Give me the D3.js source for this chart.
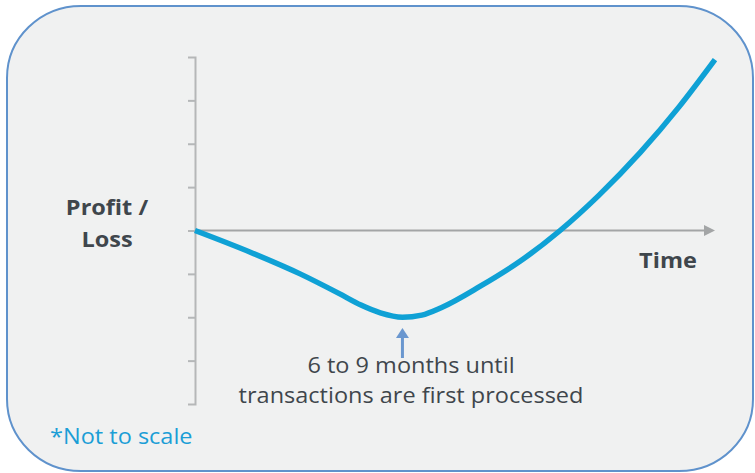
<!DOCTYPE html>
<html>
<head>
<meta charset="utf-8">
<script src="https://cdn.jsdelivr.net/npm/d3@7"></script>
<style>
  body { margin: 0; background: #fff; }
  text { font-family: "Open Sans", "Noto Sans", sans-serif; }
</style>
</head>
<body>
<div id="app"></div>
<script>
// months since start
const months = [0, 2, 3.8, 5.2, 6.0, 6.7, 7.5, 8.2, 8.9, 10.3, 11.75, 13.2, 14.6, 16.1, 17.5, 18.8];
// profit / loss (arbitrary units, not to scale)
const profit = [0, -0.5, -1.0, -1.45, -1.72, -1.9, -2.0, -1.95, -1.78, -1.29, -0.71, 0, 0.81, 1.8, 2.85, 3.94];
const yTicks = [-3, -2, -1, 0, 1, 2, 3];
const lowPoint = 7.5;
const noteLines = ["6 to 9 months until", "transactions are first processed"];

const width = 755, height = 473;
const stretch = 1.12; // the source lettering is a bit wider than Open Sans

const svg = d3.select("#app")
  .append("svg")
    .attr("width", width)
    .attr("height", height);

// rounded panel
svg.append("rect")
  .attr("x", 7).attr("y", 6)
  .attr("width", 746).attr("height", 465)
  .attr("rx", 74).attr("ry", 72)
  .attr("fill", "#f0f1f1")
  .attr("stroke", "#5f92cc")
  .attr("stroke-width", 2);

const x = d3.scaleLinear().domain([0, 18.8]).range([195, 715]);
const y = d3.scaleLinear().domain([-4, 4]).range([404, 57]);

// Y axis (ticks only)
const yAxis = svg.append("g")
  .attr("transform", `translate(${x(0)},0)`)
  .call(d3.axisLeft(y).tickValues(yTicks).tickSize(7).tickSizeOuter(7).tickFormat(""));
yAxis.selectAll("path, line")
  .attr("stroke", "#b5b7b8")
  .attr("stroke-width", 2);

// X axis with arrow
svg.append("line")
  .attr("x1", x(0)).attr("x2", x(18.8) - 9)
  .attr("y1", y(0)).attr("y2", y(0))
  .attr("stroke", "#a3a5a6")
  .attr("stroke-width", 2);
svg.append("path")
  .attr("d", `M${x(18.8)},${y(0)} l-11,-5.5 v11 z`)
  .attr("fill", "#a3a5a6");

// curve
const line = d3.line()
  .x((d, i) => x(months[i]))
  .y(d => y(d))
  .curve(d3.curveMonotoneX);

svg.append("path")
  .datum(profit)
  .attr("d", line)
  .attr("fill", "none")
  .attr("stroke", "#0fa1d5")
  .attr("stroke-width", 5.5);

// arrow pointing at the low point
const ax = x(lowPoint);
svg.append("line")
  .attr("x1", ax).attr("x2", ax)
  .attr("y1", 358).attr("y2", 336)
  .attr("stroke", "#6a97cf")
  .attr("stroke-width", 3);
svg.append("path")
  .attr("d", `M${ax},328 l-6.5,10 h13 z`)
  .attr("fill", "#6a97cf");

// labels
const textColor = "#3f464c";

function label(tx, ty, str, opts = {}) {
  return svg.append("text")
    .attr("transform", `translate(${tx},${ty}) scale(${stretch},1)`)
    .attr("text-anchor", opts.anchor || "middle")
    .attr("font-weight", opts.bold ? "bold" : "normal")
    .attr("font-size", 21)
    .attr("fill", opts.color || textColor)
    .text(str);
}

label(107, 215, "Profit /", { bold: true });
label(107, 247, "Loss", { bold: true });
label(668, 268, "Time", { bold: true });

noteLines.forEach((d, i) => label(411, 373 + i * 30, d));

label(50, 444, "*Not to scale", { anchor: "start", color: "#1b9ed6" });
</script>
</body>
</html>
